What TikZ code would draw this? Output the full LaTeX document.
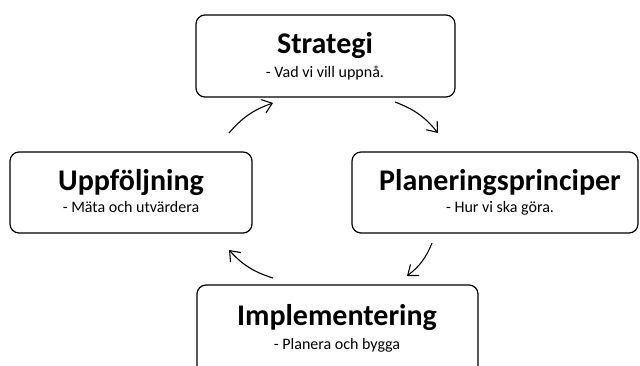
\documentclass[tikz,border=0pt]{standalone}
\usepackage{fontspec}
\setmainfont{Carlito}
\usetikzlibrary{arrows.meta}
\begin{document}
\begin{tikzpicture}[x=1pt,y=-1pt,
  box/.style={draw, line width=1.2pt, rounded corners=9pt, inner sep=0pt},
  ttl/.style={font=\bfseries\fontsize{30}{33}\selectfont, inner sep=0pt, anchor=base},
  sub/.style={font=\fontsize{16}{19}\selectfont, inner sep=0pt, anchor=base},
  arr/.style={-{Straight Barb[length=9pt,width=14pt]}, line width=1.1pt, bend left=15}]
\useasboundingbox (0,0) rectangle (640,365);
\clip (0,0) rectangle (640,365);
% boxes
\node[box, minimum width=259pt, minimum height=82pt] (s) at (325.5,56) {};
\node[box, minimum width=242pt, minimum height=81pt] (u) at (131,192.5) {};
\node[box, minimum width=286pt, minimum height=81pt] (p) at (495,192.5) {};
\node[box, minimum width=281pt, minimum height=90pt] (i) at (337.5,330) {};
% texts
\node[ttl] (st) at (325,53) {Strategi};
\node[sub] (ss) at (325,77) {- Vad vi vill uppnå.};
\node[ttl] (ut) at (131,190) {Uppföljning};
\node[sub] (us) at (131,212) {- Mäta och utvärdera};
\node[ttl] (pt) at (500,190) {Planeringsprinciper};
\node[sub] (ps) at (500,212) {- Hur vi ska göra.};
\node[ttl] (it) at (337,325) {Implementering};
\node[sub] (is) at (337,349) {- Planera och bygga};
% arrow ends
\coordinate (a1) at (229,133);
\coordinate (a2) at (273,103);
\coordinate (b1) at (395,102);
\coordinate (b2) at (438,133);
\coordinate (c1) at (432,243);
\coordinate (c2) at (407,276);
\coordinate (d1) at (273,278);
\coordinate (d2) at (229,250);
\draw[arr] (a1) to (a2);
\draw[arr] (b1) to (b2);
\draw[arr] (c1) to (c2);
\draw[arr] (d1) to (d2);
\end{tikzpicture}
\end{document}
